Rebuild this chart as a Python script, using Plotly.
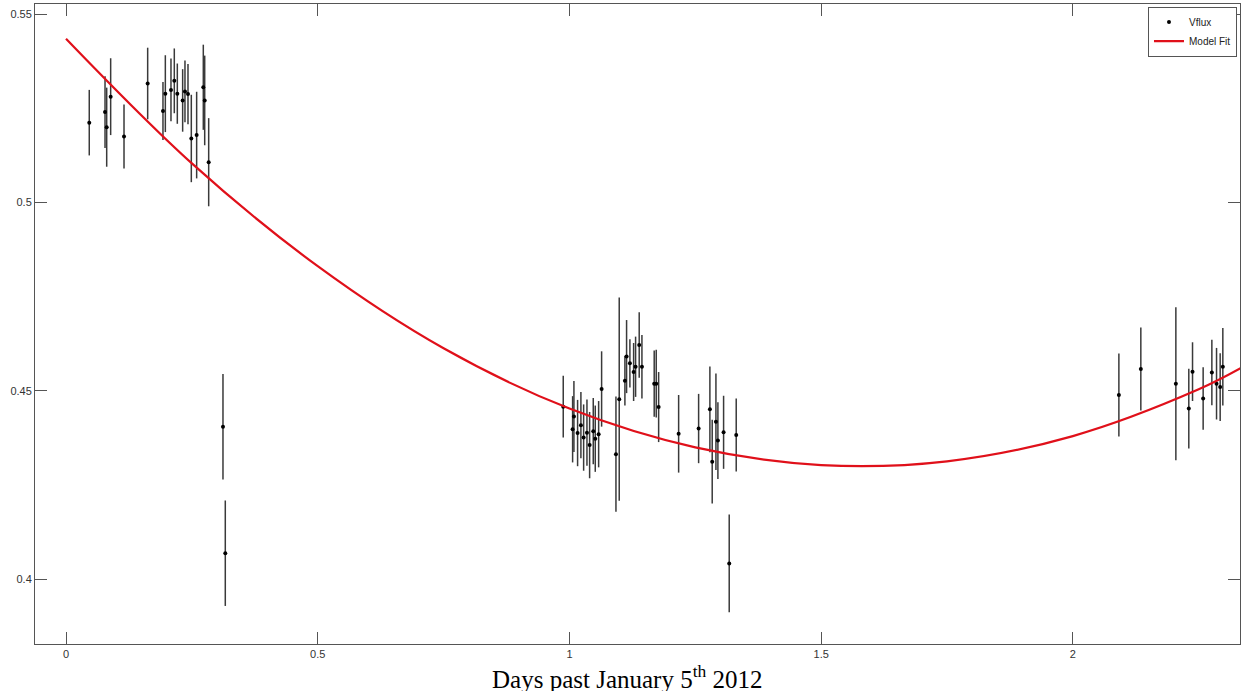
import plotly.graph_objects as go

# Observed Vflux data (days past Jan 5 2012)
days = [0.0462, 0.0775, 0.0808, 0.0887, 0.1152, 0.1622, 0.1926, 0.1973, 0.2085, 0.2151,
        0.2211, 0.2317, 0.2363, 0.2423, 0.2489, 0.2595, 0.2727, 0.2755, 0.2834,
        0.3118, 0.3164,
        0.9877, 1.0089, 1.0063, 1.0162, 1.0228, 1.0282, 1.0348, 1.0401, 1.0473, 1.0513,
        1.0580, 1.0639, 1.0924, 1.0989, 1.1102, 1.1135, 1.1201, 1.1275, 1.1314, 1.1386,
        1.1440, 1.1684, 1.1724, 1.1772, 1.2169, 1.2566, 1.2790, 1.2836, 1.2910, 1.2949,
        1.3062, 1.3174, 1.3313,
        2.0914, 2.1350, 2.2046, 2.2303, 2.2377, 2.2588, 2.2761, 2.2854, 2.2926, 2.2979]
vflux = [0.5212, 0.5240, 0.5200, 0.5281, 0.5175, 0.5316, 0.5243, 0.5289, 0.5299, 0.5323,
         0.5289, 0.5271, 0.5295, 0.5288, 0.5170, 0.5179, 0.5306, 0.5271, 0.5107,
         0.4405, 0.4069,
         0.4458, 0.4432, 0.4398, 0.4388, 0.4409, 0.4376, 0.4389, 0.4356, 0.4393, 0.4373,
         0.4385, 0.4505, 0.4332, 0.4478, 0.4527, 0.4591, 0.4573, 0.4550, 0.4564, 0.4622,
         0.4564, 0.4519, 0.4519, 0.4457, 0.4386, 0.4400, 0.4451, 0.4312, 0.4418, 0.4368,
         0.4390, 0.4042, 0.4383,
         0.4489, 0.4558, 0.4519, 0.4453, 0.4551, 0.4480, 0.4549, 0.4519, 0.4510, 0.4564]
vflux_err = [0.0087, 0.0095, 0.0105, 0.0102, 0.0085, 0.0095, 0.0077, 0.0102, 0.0083, 0.0086,
             0.0080, 0.0083, 0.0082, 0.0080, 0.0116, 0.0115, 0.0113, 0.0119, 0.0117,
             0.0140, 0.0140,
             0.0082, 0.0094, 0.0088, 0.0088, 0.0088, 0.0088, 0.0088, 0.0088, 0.0088, 0.0088,
             0.0088, 0.0100, 0.0153, 0.0270, 0.0066, 0.0097, 0.0064, 0.0077, 0.0080, 0.0087,
             0.0084, 0.0088, 0.0090, 0.0093, 0.0103, 0.0092, 0.0114, 0.0111, 0.0128, 0.0102,
             0.0097, 0.0130, 0.0097,
             0.0110, 0.0110, 0.0203, 0.0106, 0.0078, 0.0083, 0.0087, 0.0095, 0.0090, 0.0103]

# Model fit curve
fit_days = [0.0, 0.25, 0.5, 0.75, 1.0, 1.25, 1.5, 1.75, 2.0, 2.25, 2.34]
fit_flux = [0.5435, 0.5104, 0.4831, 0.4613, 0.4453, 0.4350, 0.4303, 0.4313, 0.4380, 0.4504, 0.4565]

x_ticks = [0, 0.5, 1, 1.5, 2]
x_tick_labels = ["0", "0.5", "1", "1.5", "2"]
y_ticks = [0.4, 0.45, 0.5, 0.55]
y_tick_labels = ["0.4", "0.45", "0.5", "0.55"]

fig = go.Figure()
fig.add_trace(go.Scatter(
    x=days, y=vflux, mode="markers", name="Vflux",
    marker=dict(color="black", size=4),
    error_y=dict(type="data", array=vflux_err, visible=True, color="#3a3a3a",
                 thickness=1.5, width=0),
))
fig.add_trace(go.Scatter(
    x=fit_days, y=fit_flux, mode="lines", name="Model Fit",
    line=dict(color="#e0101a", width=2.2, shape="spline"),
))

axis_common = dict(
    showgrid=False, zeroline=False, showline=True, linecolor="#555555", linewidth=1,
    mirror="ticks", ticks="inside", ticklen=12, tickcolor="#555555", tickwidth=1,
    tickfont=dict(family="Liberation Sans, Arial, sans-serif", size=11, color="#333333"),
    automargin=False,
)
fig.update_xaxes(range=[-0.0616, 2.332], tickvals=x_ticks, ticktext=x_tick_labels, **axis_common)
fig.update_yaxes(range=[0.3828, 0.5527], tickvals=y_ticks, ticktext=y_tick_labels, **axis_common)

fig.add_annotation(
    text="Days past January 5<sup>th</sup> 2012", xref="paper", yref="paper",
    x=0.492, y=-0.052, xanchor="center", yanchor="middle", showarrow=False,
    font=dict(family="Liberation Serif, Times New Roman, serif", size=25, color="black"),
)

fig.update_layout(
    width=1241, height=691,
    margin=dict(l=35, r=1, t=4, b=47),
    paper_bgcolor="white", plot_bgcolor="white",
    showlegend=True,
    legend=dict(x=0.9975, y=0.996, xanchor="right", yanchor="top",
                bordercolor="#555555", borderwidth=1, bgcolor="white",
                font=dict(family="Liberation Sans, Arial, sans-serif", size=10, color="#222222"),
                tracegroupgap=0, itemwidth=30),
)

fig.write_html("out.html", config={"displayModeBar": False},
               post_script="document.body.style.margin='0px';document.body.style.overflow='hidden';")
